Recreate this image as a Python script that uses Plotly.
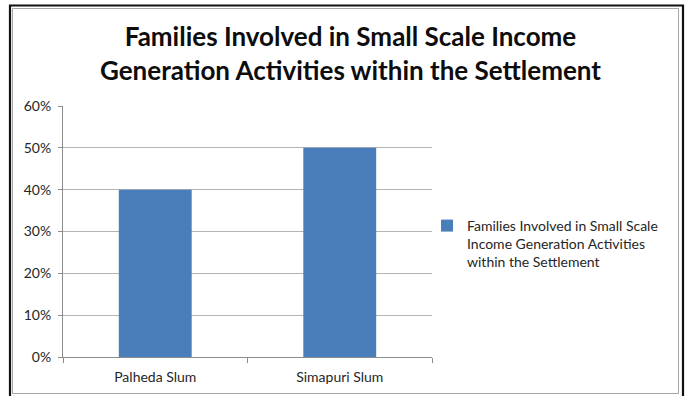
import plotly.graph_objects as go

# Data
categories = ["Palheda Slum", "Simapuri Slum"]
shares = [0.40, 0.50]
series_name = "Families Involved in Small Scale<br>Income Generation Activities<br>within the Settlement"
title_text = "Families Involved in Small Scale Income<br>Generation Activities within the Settlement"
y_ticks = [0, 0.1, 0.2, 0.3, 0.4, 0.5, 0.6]

W, H = 686, 396
L, R, T, B = 63, 432, 106, 357  # plot area in pixels


def px(x):
    return (x - L) / (R - L)


def py(y):
    return (B - y) / (B - T)


fig = go.Figure()
fig.add_trace(go.Bar(
    x=categories, y=shares, name=series_name,
    marker=dict(color="#4A7EBB", line=dict(width=0)),
    showlegend=True,
))

shapes = [
    # outer dark frame
    dict(type="rect", xref="paper", yref="paper",
         x0=px(10), x1=px(683), y0=py(400), y1=py(5.5),
         line=dict(color="#111111", width=2.2), fillcolor="rgba(0,0,0,0)", layer="above"),
    # inner grey chart-area border
    dict(type="rect", xref="paper", yref="paper",
         x0=px(12.5), x1=px(678.5), y0=py(393.5), y1=py(8.5),
         line=dict(color="#a6a6a6", width=1), fillcolor="rgba(0,0,0,0)", layer="above"),
]

fig.update_layout(
    width=W, height=H,
    margin=dict(l=L, r=W - R, t=T, b=H - B, autoexpand=False),
    paper_bgcolor="white", plot_bgcolor="white",
    bargap=0.605,
    shapes=shapes,
    font=dict(family="Lato, Open Sans, sans-serif", color="#262626"),
    annotations=[dict(
        text="<b>" + title_text + "</b>", xref="paper", yref="paper",
        x=px(350), y=py(53), xanchor="center", yanchor="middle",
        showarrow=False, font=dict(size=26, color="#0d0d0d", family="Lato, sans-serif"),
    )],
    legend=dict(
        x=px(427), y=py(210), xanchor="left", yanchor="top",
        font=dict(size=14, color="#262626"), bgcolor="rgba(0,0,0,0)",
        itemwidth=30, tracegroupgap=0, valign="top",
    ),
    xaxis=dict(
        showline=True, linecolor="#8c8c8c", linewidth=1,
        ticks="outside", tickson="boundaries", ticklen=5, tickcolor="#8c8c8c",
        tickfont=dict(size=14, color="#262626"), ticklabelstandoff=7,
        showgrid=False, zeroline=False,
    ),
    yaxis=dict(
        range=[0, 0.6], tickvals=y_ticks, tickformat=".0%",
        showline=True, linecolor="#8c8c8c", linewidth=1,
        ticks="outside", ticklen=4, tickcolor="#8c8c8c",
        tickfont=dict(size=14, color="#262626"), ticklabelstandoff=4,
        showgrid=True, gridcolor="#b3b3b3", gridwidth=1, zeroline=False,
    ),
)

fig.write_html("out.html")
